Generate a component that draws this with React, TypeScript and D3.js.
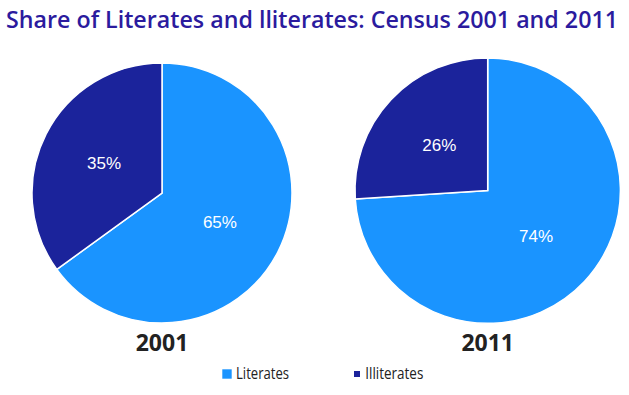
import React, { useRef, useEffect } from 'react';
import * as d3 from 'd3';

const categories = ['Literates', 'Illiterates'];
const years = ['2001', '2011'];
const shares2001 = [65, 35];
const shares2011 = [74, 26];
const colors = ['#1a94ff', '#1b239b'];

export default function App() {
  const ref = useRef<SVGSVGElement>(null);
  const width = 629;
  const height = 395;

  useEffect(() => {
    if (!ref.current) return;
    const svg = d3.select(ref.current);
    svg.selectAll('*').remove();

    // title
    svg.append('text')
      .attr('x', 6)
      .attr('y', 28)
      .attr('textLength', 612)
      .attr('lengthAdjust', 'spacingAndGlyphs')
      .style('font', '600 23px "Open Sans", sans-serif')
      .attr('fill', '#2b1b9e')
      .text('Share of Literates and lliterates: Census 2001 and 2011');

    const color = d3.scaleOrdinal<string, string>().domain(categories).range(colors);
    const pie = d3.pie<number>().sort(null).value(d => d);

    const pies = [
      { year: years[0], values: shares2001, cx: 162, cy: 193, r: 130 },
      { year: years[1], values: shares2011, cx: 487.7, cy: 190.6, r: 132.7 },
    ];

    pies.forEach(p => {
      const arc = d3.arc<d3.PieArcDatum<number>>().innerRadius(0).outerRadius(p.r);
      const labelArc = d3.arc<d3.PieArcDatum<number>>().innerRadius(p.r * 0.5).outerRadius(p.r * 0.5);
      const g = svg.append('g').attr('transform', `translate(${p.cx},${p.cy})`);
      const arcs = pie(p.values);

      g.selectAll('path')
        .data(arcs)
        .join('path')
        .attr('d', arc)
        .attr('fill', (d, i) => color(categories[i]))
        .attr('stroke', '#fff')
        .attr('stroke-width', 1.5);

      g.selectAll('text')
        .data(arcs)
        .join('text')
        .attr('transform', d => `translate(${labelArc.centroid(d)})`)
        .attr('text-anchor', 'middle')
        .attr('dy', '0.35em')
        .style('font', '17px "Liberation Sans", Arial, sans-serif')
        .attr('fill', '#fff')
        .text(d => `${d.data}%`);

      svg.append('text')
        .attr('x', p.cx)
        .attr('y', 351)
        .attr('text-anchor', 'middle')
        .style('font', 'bold 23px "Open Sans", sans-serif')
        .attr('fill', '#222')
        .text(p.year);
    });

    // legend
    const legend = [
      { x: 222.3, y: 369.3, size: 9.4, tx: 236, tl: 53 },
      { x: 354, y: 371, size: 6, tx: 365.3, tl: 58 },
    ];
    legend.forEach((l, i) => {
      svg.append('rect')
        .attr('x', l.x)
        .attr('y', l.y)
        .attr('width', l.size)
        .attr('height', l.size)
        .attr('fill', color(categories[i]));
      svg.append('text')
        .attr('x', l.tx)
        .attr('y', 379)
        .attr('textLength', l.tl)
        .attr('lengthAdjust', 'spacingAndGlyphs')
        .style('font', '17px "Open Sans", sans-serif')
        .attr('fill', '#222')
        .text(categories[i]);
    });
  }, []);

  return (
    <div style={{ position: 'absolute', left: 0, top: 0 }}>
      <svg ref={ref} width={width} height={height} style={{ display: 'block', background: '#fff' }} />
    </div>
  );
}
